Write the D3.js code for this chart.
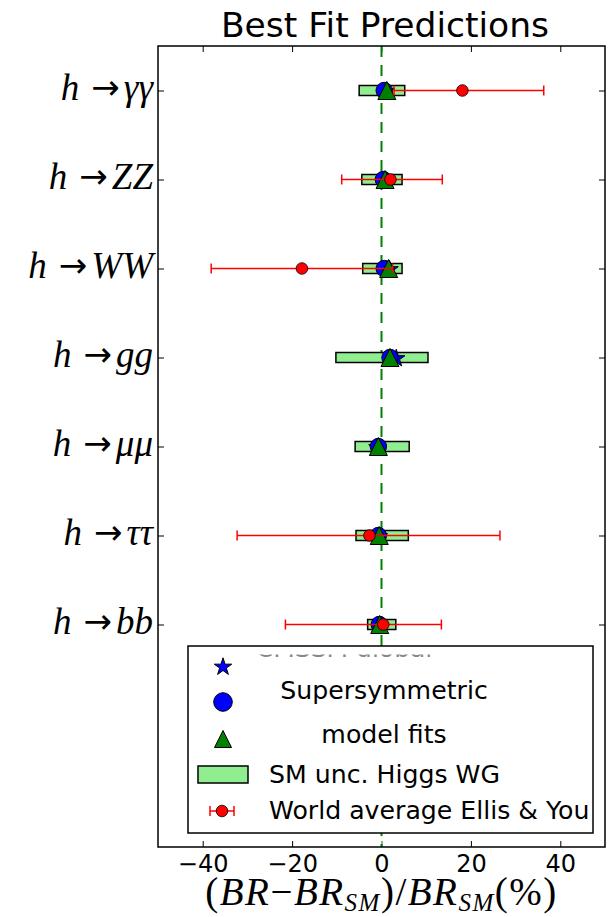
<!DOCTYPE html>
<html><head><meta charset="utf-8">
<script src="https://cdn.jsdelivr.net/npm/d3@7"></script>
<style>body{margin:0;background:#fff} svg{display:block}</style>
</head><body><script>
// ---- data ----
const channels   = ["γγ","ZZ","WW","gg","μμ","ττ","bb"];
const channelPos = [7,6,5,4,3,2,1];
const smUncLow   = [-5.0,-4.4,-4.2,-10.2,-5.9,-5.7,-3.1];
const smUncHigh  = [ 5.2, 4.6, 4.6, 10.4, 6.2, 6.0, 3.2];
const starVals   = [ 1.0, 0.8, 1.8, 3.3,-0.9,-0.6,-0.4];
const circleVals = [ 0.6, 0.4, 0.6, 1.9,-0.7,-0.7,-0.5];
const triVals    = [ 1.2, 0.8, 1.6, 1.9,-0.7,-0.5,-0.4];
const waChannels = ["γγ","ZZ","WW","ττ","bb"];
const waVals     = [18.1, 2.0,-17.8,-2.7, 0.4];
const waErrLow   = [15.3,10.9, 20.3,29.6,21.9];
const waErrHigh  = [18.2,11.6, 20.3,29.2,13.0];
const xTicks     = [-40,-20,0,20,40];
const legendLabels = ["CMSSM global","Supersymmetric","model fits","SM unc. Higgs WG","World average Ellis & You"];

// ---- layout ----
const W = 611, H = 917;
const L = 158, R = 605, T = 46, B = 847;
const x = d3.scaleLinear().domain([-50,50]).range([L,R]);
const y = d3.scaleLinear().domain([-1.5,7.5]).range([B,T]);
const posOf = c => channelPos[channels.indexOf(c)];

const svg = d3.select("body").append("svg").attr("width",W).attr("height",H);
svg.append("rect").attr("width",W).attr("height",H).attr("fill","#fff");
const sans = "'DejaVu Sans', sans-serif";
const serif = "'Liberation Serif', 'DejaVu Serif', serif";

// title
svg.append("text").attr("x",385).attr("y",37).attr("text-anchor","middle")
  .attr("font-family",sans).attr("font-size",34.5).text("Best Fit Predictions");

// zero line
svg.append("line").attr("x1",x(0)).attr("x2",x(0)).attr("y1",T).attr("y2",B)
  .attr("stroke","#008000").attr("stroke-width",2).attr("stroke-dasharray","11,8");

// SM uncertainty boxes
const boxH = 10;
svg.append("g").selectAll("rect").data(channels).join("rect")
  .attr("x",(d,i)=>x(smUncLow[i])).attr("width",(d,i)=>x(smUncHigh[i])-x(smUncLow[i]))
  .attr("y",(d,i)=>y(channelPos[i])-boxH/2).attr("height",boxH)
  .attr("fill","#90ee90").attr("stroke","#000").attr("stroke-width",1.5);

// markers
const starPath = d3.symbol(d3.symbolStar).size(95)();
const triPath = "M0,-9L9,9L-9,9Z";
svg.append("g").selectAll("path").data(channels).join("path")
  .attr("d",starPath).attr("transform",(d,i)=>`translate(${x(starVals[i])},${y(channelPos[i])+1})`)
  .attr("fill","#0000ff").attr("stroke","#000").attr("stroke-width",1);
svg.append("g").selectAll("circle").data(channels).join("circle")
  .attr("cx",(d,i)=>x(circleVals[i])).attr("cy",(d,i)=>y(channelPos[i])).attr("r",8.2)
  .attr("fill","#0000ff").attr("stroke","#000").attr("stroke-width",1);
svg.append("g").selectAll("path").data(channels).join("path")
  .attr("d",triPath).attr("transform",(d,i)=>`translate(${x(triVals[i])},${y(channelPos[i])})`)
  .attr("fill","#008000").attr("stroke","#000").attr("stroke-width",1);

// world average error bars
const wa = svg.append("g");
waChannels.forEach((c,i)=>{
  const yy = y(posOf(c));
  const x0 = x(waVals[i]-waErrLow[i]), x1 = x(waVals[i]+waErrHigh[i]);
  wa.append("line").attr("x1",x0).attr("x2",x1).attr("y1",yy).attr("y2",yy)
    .attr("stroke","#ff0000").attr("stroke-width",1.5);
  [x0,x1].forEach(xx=>wa.append("line").attr("x1",xx).attr("x2",xx).attr("y1",yy-5).attr("y2",yy+5)
    .attr("stroke","#ff0000").attr("stroke-width",1.5));
  wa.append("circle").attr("cx",x(waVals[i])).attr("cy",yy).attr("r",5.8)
    .attr("fill","#ff0000").attr("stroke","#000").attr("stroke-width",0.8);
});

// axes (inward ticks)
const ax = svg.append("g").attr("font-family",sans);
const gB = ax.append("g").attr("transform",`translate(0,${B})`)
  .call(d3.axisBottom(x).tickValues(xTicks).tickSizeInner(-6).tickSizeOuter(0).tickPadding(8)
    .tickFormat(d=>d<0?"−"+Math.abs(d):d));
gB.selectAll("text").attr("font-size",24).attr("font-family",sans).attr("fill","#000");
const gT = ax.append("g").attr("transform",`translate(0,${T})`)
  .call(d3.axisTop(x).tickValues(xTicks).tickSizeInner(-6).tickSizeOuter(0).tickFormat(""));
const gL = ax.append("g").attr("transform",`translate(${L},0)`)
  .call(d3.axisLeft(y).tickValues(channelPos).tickSizeInner(-6).tickSizeOuter(0).tickFormat(""));
const gR = ax.append("g").attr("transform",`translate(${R},0)`)
  .call(d3.axisRight(y).tickValues(channelPos).tickSizeInner(-6).tickSizeOuter(0).tickFormat(""));
ax.selectAll(".domain").remove();
ax.selectAll(".tick line").attr("stroke","#000").attr("stroke-width",1);
gT.selectAll(".tick line").filter(d=>d===0).attr("stroke","#008000");
gB.selectAll(".tick line").filter(d=>d===0).attr("stroke","#008000");

// frame
svg.append("rect").attr("x",L).attr("y",T).attr("width",R-L).attr("height",B-T)
  .attr("fill","none").attr("stroke","#000").attr("stroke-width",1.5);

// y labels (math style)
channels.forEach((c,i)=>{
  const t = svg.append("text").attr("x",153).attr("y",y(channelPos[i])+9)
    .attr("text-anchor","end").attr("font-family",serif).attr("font-size",37);
  t.append("tspan").attr("font-style","italic").text("h");
  t.append("tspan").attr("font-family",sans).attr("font-size",34).attr("dx",12).attr("dy",-1).text("→");
  t.append("tspan").attr("font-style","italic").attr("dx",4).attr("dy",1).text(c);
});

// x label (math style)
const xl = svg.append("text").attr("x",(L+R)/2).attr("y",905).attr("text-anchor","middle")
  .attr("font-family",serif).attr("font-size",39).attr("letter-spacing",1.5);
const parts = [["(",0,0],["BR",1,0],["−",0,0],["BR",1,0],["SM",1,1],[")",0,0],["/",0,0],["BR",1,0],["SM",1,1],["(%)",0,0]];
let sub = false;
parts.forEach(([s,it,isSub])=>{
  const ts = xl.append("tspan").text(s);
  if (it) ts.attr("font-style","italic");
  if (isSub) ts.attr("font-size",25);
  if (isSub && !sub){ ts.attr("dy",6); sub=true; }
  else if (!isSub && sub){ ts.attr("dy",-6); sub=false; }
});

// legend
const lg = svg.append("g");
lg.append("rect").attr("x",188).attr("y",646).attr("width",405).attr("height",187)
  .attr("fill","#fff").attr("stroke","#000").attr("stroke-width",1.5);
const clip = svg.append("defs").append("clipPath").attr("id","lgclip");
clip.append("rect").attr("x",190).attr("y",654.5).attr("width",400).attr("height",2.5);
lg.append("text").attr("clip-path","url(#lgclip)").attr("x",344).attr("y",657)
  .attr("text-anchor","middle").attr("font-family",sans).attr("font-size",25).attr("fill","#888")
  .text(legendLabels[0]);
lg.append("path").attr("d",starPath).attr("transform","translate(223,667)")
  .attr("fill","#0000ff").attr("stroke","#000").attr("stroke-width",1);
lg.append("circle").attr("cx",223).attr("cy",702).attr("r",9.3)
  .attr("fill","#0000ff").attr("stroke","#000").attr("stroke-width",1);
lg.append("path").attr("d","M0,-8.5L8.5,8.5L-8.5,8.5Z").attr("transform","translate(223,739)")
  .attr("fill","#008000").attr("stroke","#000").attr("stroke-width",1);
lg.append("rect").attr("x",198).attr("y",766).attr("width",50).attr("height",17)
  .attr("fill","#90ee90").attr("stroke","#000").attr("stroke-width",1.5);
lg.append("line").attr("x1",210).attr("x2",234).attr("y1",811).attr("y2",811).attr("stroke","#ff0000").attr("stroke-width",1.5);
[210,234].forEach(xx=>lg.append("line").attr("x1",xx).attr("x2",xx).attr("y1",806).attr("y2",816).attr("stroke","#ff0000").attr("stroke-width",1.5));
lg.append("circle").attr("cx",222).attr("cy",811).attr("r",5.8).attr("fill","#ff0000").attr("stroke","#000").attr("stroke-width",0.8);
const lt = (txt,xx,yy,anchor)=>lg.append("text").attr("x",xx).attr("y",yy).attr("text-anchor",anchor)
  .attr("font-family",sans).attr("font-size",25.2).attr("fill","#000").text(txt);
lt(legendLabels[1],384,699,"middle");
lt(legendLabels[2],384,743,"middle");
lt(legendLabels[3],269,783,"start");
lt(legendLabels[4],269,819,"start");
</script></body></html>
